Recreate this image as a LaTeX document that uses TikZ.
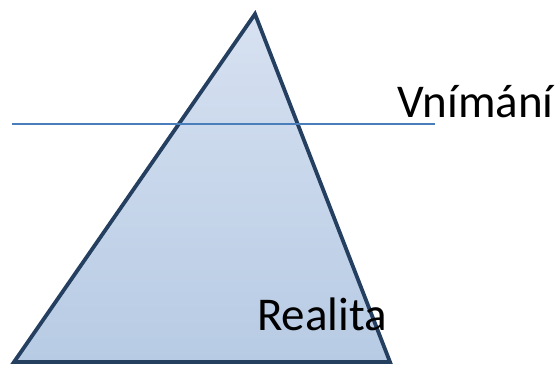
\documentclass[tikz,border=0pt]{standalone}
\usepackage{fontspec}
\setmainfont{Carlito}
\usepackage{tikz}
\usetikzlibrary{calc,positioning}
\definecolor{edgeblue}{HTML}{243F60}
\definecolor{lineblue}{HTML}{4A7EBB}
\definecolor{topfill}{HTML}{D7E1F1}
\definecolor{botfill}{HTML}{B7CBE4}
\tikzset{lbl/.style={font=\fontsize{47}{52}\selectfont, inner sep=0pt, anchor=base west}}

\begin{document}
\begin{tikzpicture}[x=1pt, y=-1pt]
\useasboundingbox (0,0) rectangle (559,371);

\coordinate (apex) at (255,14);
\coordinate (bl) at (14,362);
\coordinate (br) at (390,362);
\shade[top color=topfill, bottom color=botfill] (apex) -- (br) -- (bl) -- cycle;
\draw[edgeblue, line width=3.8pt, line join=miter] (apex) -- (br) -- (bl) -- cycle;

\coordinate (lineL) at (12,124);
\coordinate (lineR) at (435,124);
\draw[lineblue, line width=1.6pt] (lineL) -- (lineR);

\node[lbl] (vnimani) at (397,118) {Vnímání};
\node[lbl] (realita) at (257,330) {Realita};
\end{tikzpicture}
\end{document}
